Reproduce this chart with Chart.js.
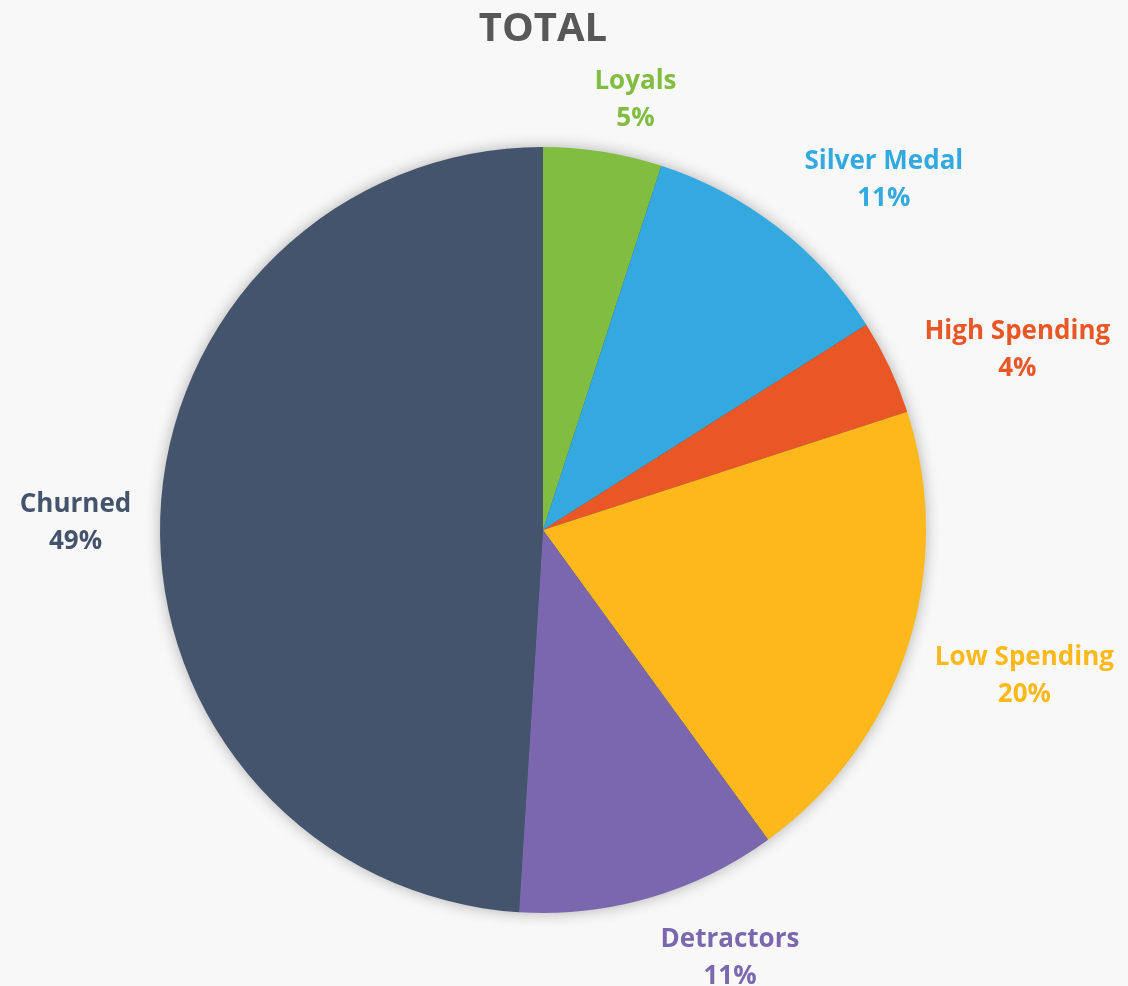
<!DOCTYPE html>
<html>
<head>
<meta charset="utf-8">
<title>TOTAL</title>
<script src="https://cdn.jsdelivr.net/npm/chart.js@4.4.1/dist/chart.umd.min.js"></script>
<style>
  html, body { margin: 0; padding: 0; background: #f8f8f8; }
  #wrap { width: 1128px; height: 986px; }
  canvas { display: block; }
</style>
</head>
<body>
<div id="wrap"><canvas id="pie" width="1128" height="986"></canvas></div>
<script>
// Segment names, shares (percent) and colours, clockwise from 12 o'clock
const categories = ['Loyals', 'Silver Medal', 'High Spending', 'Low Spending', 'Detractors', 'Churned'];
const shares = [5, 11, 4, 20, 11, 49];
const colors = ['#80bd41', '#33a9e0', '#ea5726', '#fdb81b', '#7b67ae', '#45546d'];
const titleText = 'TOTAL';

const FONT = "'Open Sans', 'Liberation Sans', sans-serif";

// Soft drop shadow behind the whole pie
const pieShadow = {
  id: 'pieShadow',
  beforeDatasetsDraw(chart) {
    const arc = chart.getDatasetMeta(0).data[0];
    if (!arc) return;
    const { x, y, outerRadius } = arc.getProps(['x', 'y', 'outerRadius'], true);
    const ctx = chart.ctx;
    ctx.save();
    ctx.shadowColor = 'rgba(0,0,0,0.32)';
    ctx.shadowBlur = 16;
    ctx.fillStyle = '#45546d';
    ctx.beginPath();
    ctx.arc(x, y, outerRadius - 1, 0, Math.PI * 2);
    ctx.fill();
    ctx.restore();
  }
};

// Two-line outside labels: name and percentage, in the segment's colour
const outsideLabels = {
  id: 'outsideLabels',
  afterDatasetsDraw(chart, args, opts) {
    const ctx = chart.ctx;
    const meta = chart.getDatasetMeta(0);
    const ds = chart.data.datasets[0];
    ctx.save();
    ctx.font = `700 ${opts.size}px ${FONT}`;
    ctx.textAlign = 'center';
    ctx.textBaseline = 'middle';
    meta.data.forEach((arc, i) => {
      const p = arc.getProps(['x', 'y', 'startAngle', 'endAngle', 'outerRadius'], true);
      const mid = (p.startAngle + p.endAngle) / 2;
      const dx = Math.cos(mid), dy = Math.sin(mid);
      const name = chart.data.labels[i];
      const pct = ds.data[i] + '%';
      const w = Math.max(ctx.measureText(name).width, ctx.measureText(pct).width);
      const h = opts.lineHeight * 2;
      // distance from the anchor on the ring to the centre of the label box
      const ex = Math.abs(dx) > 1e-6 ? (w / 2) / Math.abs(dx) : Infinity;
      const ey = Math.abs(dy) > 1e-6 ? (h / 2) / Math.abs(dy) : Infinity;
      const d = Math.min(ex, ey);
      const r = p.outerRadius + opts.gap + d;
      const shift = opts.shift[i] || [0, 0];
      const cx = p.x + dx * r + shift[0];
      const cy = p.y + dy * r + shift[1];
      ctx.fillStyle = ds.backgroundColor[i];
      ctx.fillText(name, cx, cy - opts.lineHeight / 2);
      ctx.fillText(pct, cx, cy + opts.lineHeight / 2);
    });
    ctx.restore();
  }
};

function draw() {
  new Chart(document.getElementById('pie'), {
    type: 'pie',
    data: {
      labels: categories,
      datasets: [{
        data: shares,
        backgroundColor: colors,
        borderWidth: 0,
        hoverOffset: 0
      }]
    },
    options: {
      responsive: false,
      animation: false,
      events: [],
      layout: { padding: { left: 160, right: 202, top: 0, bottom: 73 } },
      plugins: {
        legend: { display: false },
        tooltip: { enabled: false },
        title: {
          display: true,
          text: titleText,
          color: '#585858',
          font: { family: FONT, size: 40, weight: '700', lineHeight: 1.2 },
          padding: { top: 6, bottom: 93 }
        },
        outsideLabels: {
          size: 26,
          lineHeight: 37,
          gap: 30,
          shift: [[22, 15], [59, 13], [22, 33], [-1, -11], [61, -6], [1, 8]]
        }
      }
    },
    plugins: [pieShadow, outsideLabels]
  });
}

if (document.fonts && document.fonts.load) {
  Promise.all([
    document.fonts.load(`700 26px 'Open Sans'`),
    document.fonts.load(`700 40px 'Open Sans'`)
  ]).then(draw, draw);
} else {
  draw();
}
</script>
</body>
</html>
